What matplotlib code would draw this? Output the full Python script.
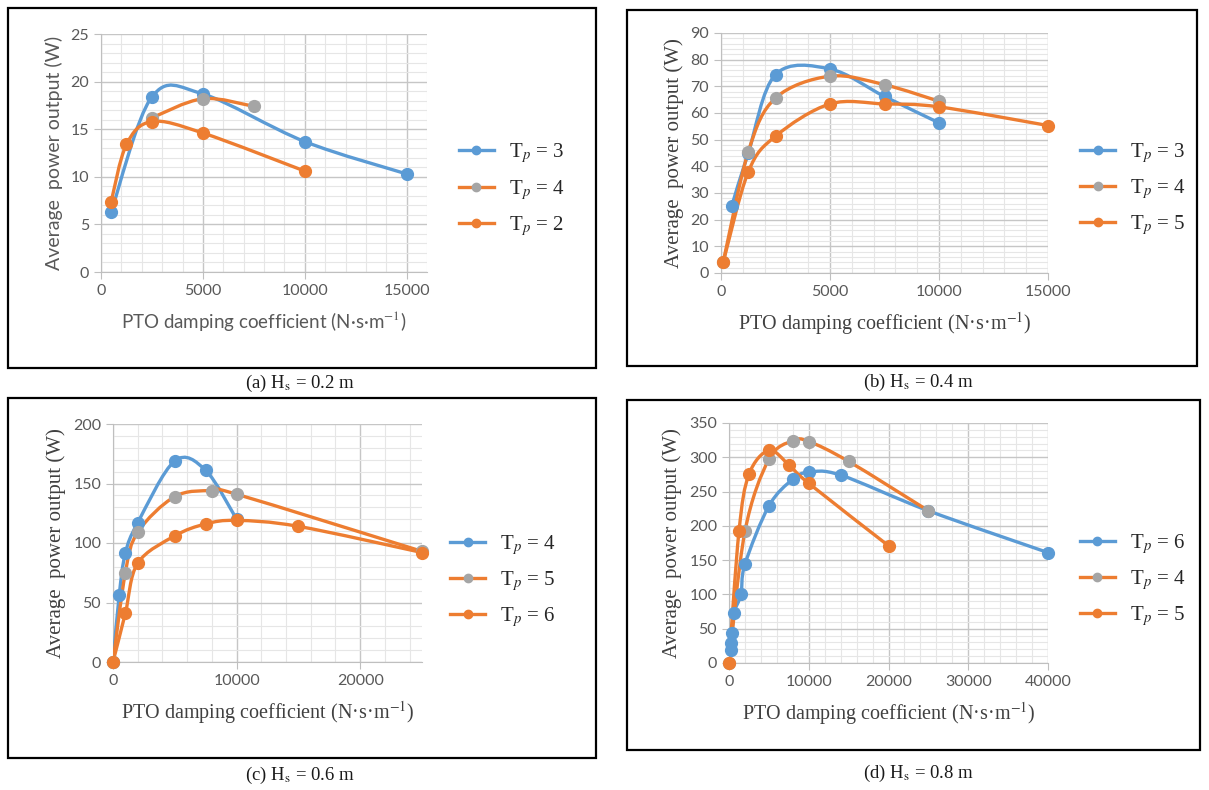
import matplotlib
matplotlib.use("Agg")
import matplotlib.pyplot as plt
import numpy as np
from matplotlib.path import Path
from matplotlib.patches import PathPatch, Rectangle
from matplotlib.lines import Line2D
from matplotlib.ticker import MultipleLocator

plt.rcParams['mathtext.fontset'] = 'stix'

# ---- data ----
# (a) Hs = 0.2 m
a_x_tp3 = [500, 2500, 5000, 10000, 15000]
a_y_tp3 = [6.3, 18.4, 18.7, 13.7, 10.3]
a_x_tp4 = [2500, 5000, 7500]
a_y_tp4 = [16.2, 18.2, 17.4]
a_x_tp2 = [500, 1250, 2500, 5000, 10000]
a_y_tp2 = [7.4, 13.4, 15.8, 14.6, 10.6]

# (b) Hs = 0.4 m
b_x_tp3 = [500, 1250, 2500, 5000, 7500, 10000]
b_y_tp3 = [25.3, 45, 74.4, 76.5, 66.2, 56.3]
b_x_tp4 = [100, 1250, 2500, 5000, 7500, 10000]
b_y_tp4 = [4, 45.4, 65.6, 73.8, 70.6, 64.4]
b_x_tp5 = [100, 1250, 2500, 5000, 7500, 10000, 15000]
b_y_tp5 = [4, 37.9, 51.3, 63.4, 63.4, 62.3, 55.3]

# (c) Hs = 0.6 m
c_x_tp4 = [0, 500, 1000, 2000, 5000, 7500, 10000]
c_y_tp4 = [0, 56, 91.5, 117, 169, 161, 120]
c_x_tp5 = [0, 1000, 2000, 5000, 8000, 10000, 25000]
c_y_tp5 = [0, 75, 109, 139, 144, 141, 93]
c_x_tp6 = [0, 1000, 2000, 5000, 7500, 10000, 15000, 25000]
c_y_tp6 = [0, 41, 83, 106, 116, 119, 114, 92]

# (d) Hs = 0.8 m
d_x_tp6 = [200, 300, 400, 600, 1500, 2000, 5000, 8000, 10000, 14000, 25000, 40000]
d_y_tp6 = [19, 29, 44, 73, 100, 144, 229, 268, 278, 274, 222, 161]
d_x_tp4 = [0, 2000, 5000, 8000, 10000, 15000, 25000]
d_y_tp4 = [0, 192, 297, 324, 323, 294, 222]
d_x_tp5 = [0, 1250, 2500, 5000, 7500, 10000, 20000]
d_y_tp5 = [0, 192, 275, 310, 289, 262, 171]

BLUE = '#5B9BD5'
ORANGE = '#ED7D31'
GRAY = '#A5A5A5'

SANS = 'Lato'
SERIF = 'Liberation Serif'

W, H = 1209, 790


def px_rect(x0, y0, x1, y1):
    return [x0 / W, 1 - y1 / H, (x1 - x0) / W, (y1 - y0) / H]


# Excel-like smoothed line (bezier through the points)
def smooth_path(xs, ys):
    pts = np.column_stack([xs, ys]).astype(float)
    n = len(pts)
    verts = [pts[0]]
    codes = [Path.MOVETO]
    for i in range(n - 1):
        p0 = pts[i - 1] if i > 0 else pts[i]
        p1 = pts[i]
        p2 = pts[i + 1]
        p3 = pts[i + 2] if i + 2 < n else pts[i + 1]
        verts += [p1 + (p2 - p0) / 6, p2 - (p3 - p1) / 6, p2]
        codes += [Path.CURVE4] * 3
    return Path(verts, codes)


def draw_panel(rect, series, xlim, ylim, xstep, xminor, ystep, yminor,
               label_font, leg_anchor):
    ax = fig.add_axes(rect)
    handles = []
    for xs, ys, lc, mc, lab in series:
        ax.add_patch(PathPatch(smooth_path(xs, ys), fill=False, ec=lc,
                               lw=2.4, capstyle='round', joinstyle='round', zorder=3))
        ax.plot(xs, ys, 'o', ms=8.5, color=mc, mec=mc, zorder=4, clip_on=False)
        handles.append(Line2D([], [], color=lc, lw=2.4, marker='o', ms=6,
                              mfc=mc, mec=mc, label=lab))
    ax.set_xlim(*xlim)
    ax.set_ylim(*ylim)
    ax.xaxis.set_major_locator(MultipleLocator(xstep))
    ax.xaxis.set_minor_locator(MultipleLocator(xminor))
    ax.yaxis.set_major_locator(MultipleLocator(ystep))
    ax.yaxis.set_minor_locator(MultipleLocator(yminor))
    ax.grid(True, which='major', color='#C6C6C6', lw=1.0)
    ax.grid(True, which='minor', color='#E6E6E6', lw=0.8)
    ax.set_axisbelow(True)
    for s in ['top', 'right']:
        ax.spines[s].set_visible(False)
    for s in ['left', 'bottom']:
        ax.spines[s].set_color('#BFBFBF')
    ax.tick_params(which='major', length=5, color='#BFBFBF', labelcolor='#595959',
                   labelsize=11.5)
    ax.tick_params(which='minor', length=0)
    for t in ax.get_xticklabels() + ax.get_yticklabels():
        t.set_fontfamily(SANS)
    if label_font == SANS:
        ax.set_ylabel('Average  power output (W)', fontfamily=SANS, fontsize=14,
                      color='#595959', labelpad=5)
        ax.set_xlabel('PTO damping coefficient (N·s·m$^{-1}$)', fontfamily=SANS,
                      fontsize=13.5, color='#595959', labelpad=8)
    else:
        ax.set_ylabel('Average  power output (W)', fontfamily=SERIF, fontsize=15,
                      color='#404040', labelpad=5)
        ax.set_xlabel('PTO damping coefficient (N·s·m$^{-1}$)', fontfamily=SERIF,
                      fontsize=14.5, color='#404040', labelpad=8)
    leg = ax.legend(handles=handles, loc='center left', bbox_to_anchor=leg_anchor,
                    frameon=False, prop={'family': SERIF, 'size': 15},
                    handlelength=1.7, labelspacing=0.6, handletextpad=0.7)
    for t in leg.get_texts():
        t.set_color('#262626')
    return ax


fig = plt.figure(figsize=(W / 100, H / 100), dpi=100)

# panel frames
for x0, y0, x1, y1 in [(8, 8, 596, 368), (627, 10, 1197, 366),
                       (8, 398, 596, 758), (627, 400, 1200, 750)]:
    fig.add_artist(Rectangle((x0 / W, 1 - y1 / H), (x1 - x0) / W, (y1 - y0) / H,
                             transform=fig.transFigure, fill=False, ec='black', lw=1.6))

draw_panel(px_rect(101, 34, 427, 272),
           [(a_x_tp3, a_y_tp3, BLUE, BLUE, 'T$_p$ = 3'),
            (a_x_tp4, a_y_tp4, ORANGE, GRAY, 'T$_p$ = 4'),
            (a_x_tp2, a_y_tp2, ORANGE, ORANGE, 'T$_p$ = 2')],
           (0, 16000), (0, 25), 5000, 1000, 5, 1, SANS, (1.04, 0.345))

draw_panel(px_rect(721, 33, 1048, 273),
           [(b_x_tp3, b_y_tp3, BLUE, BLUE, 'T$_p$ = 3'),
            (b_x_tp4, b_y_tp4, ORANGE, GRAY, 'T$_p$ = 4'),
            (b_x_tp5, b_y_tp5, ORANGE, ORANGE, 'T$_p$ = 5')],
           (0, 15000), (0, 90), 5000, 1000, 10, 2, SERIF, (1.04, 0.35))

draw_panel(px_rect(113, 424, 422, 662),
           [(c_x_tp4, c_y_tp4, BLUE, BLUE, 'T$_p$ = 4'),
            (c_x_tp5, c_y_tp5, ORANGE, GRAY, 'T$_p$ = 5'),
            (c_x_tp6, c_y_tp6, ORANGE, ORANGE, 'T$_p$ = 6')],
           (0, 25000), (0, 200), 10000, 2000, 50, 10, SERIF, (1.03, 0.34))

draw_panel(px_rect(729, 423, 1048, 663),
           [(d_x_tp6, d_y_tp6, BLUE, BLUE, 'T$_p$ = 6'),
            (d_x_tp4, d_y_tp4, ORANGE, GRAY, 'T$_p$ = 4'),
            (d_x_tp5, d_y_tp5, ORANGE, ORANGE, 'T$_p$ = 5')],
           (0, 40000), (0, 350), 10000, 2000, 50, 10, SERIF, (1.04, 0.346))

# captions
for x, y, txt in [(300, 383, '(a) H$_\\mathrm{s}$ = 0.2 m'), (918, 382, '(b) H$_\\mathrm{s}$ = 0.4 m'),
                  (300, 775, '(c) H$_\\mathrm{s}$ = 0.6 m'), (918, 773, '(d) H$_\\mathrm{s}$ = 0.8 m')]:
    fig.text(x / W, 1 - y / H, txt, ha='center', va='center', fontfamily=SERIF,
             fontsize=13.5, color='#1a1a1a')

fig.savefig('out.png', dpi=100)
